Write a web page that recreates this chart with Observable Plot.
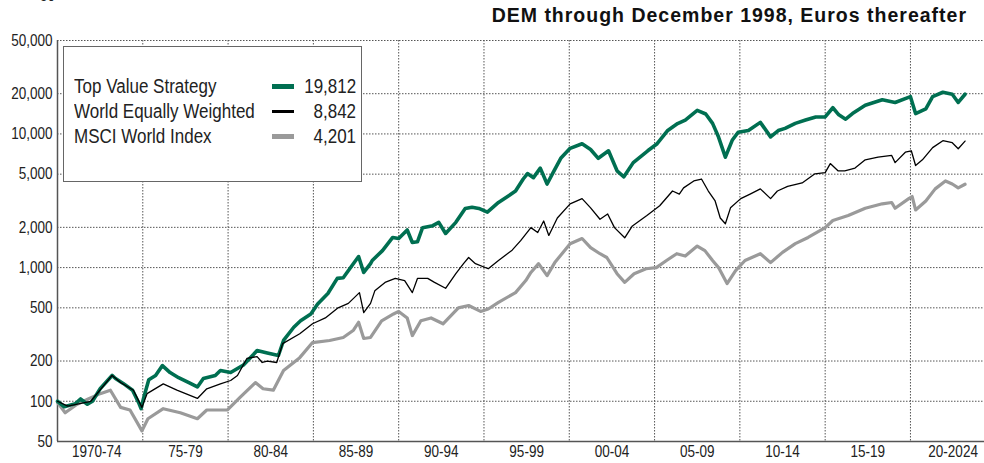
<!DOCTYPE html>
<html>
<head>
<meta charset="utf-8">
<script src="https://cdn.jsdelivr.net/npm/d3@7"></script>
<script src="https://cdn.jsdelivr.net/npm/@observablehq/plot@0.6"></script>
<style>
  body { margin: 0; background: #fff; }
  #wrap { position: relative; width: 984px; height: 463px; overflow: hidden; background: #fff; font-family: "Liberation Sans", Arial, sans-serif; }
  #title { position: absolute; right: 17px; top: 4px; font-weight: bold; font-size: 19.5px; letter-spacing: 1px; color: #111; white-space: nowrap; }
  #cut { position: absolute; left: 40px; top: -14px; font-size: 16.5px; color: #222; transform: scaleX(0.82); transform-origin: left; }
  #legend { position: absolute; left: 63px; top: 46px; width: 297px; height: 134px; border: 1.5px solid #666; background: #fff; box-sizing: content-box; }
  .row { position: absolute; left: 10px; width: 282px; height: 25px; font-size: 20px; color: #222; line-height: 25px; }
  .row .lab { position: absolute; left: 0; top: 0; white-space: nowrap; transform: scaleX(0.85); transform-origin: left center; }
  .row .sw { position: absolute; left: 198px; width: 22px; }
  .row .val { position: absolute; right: 0; top: 0; white-space: nowrap; transform: scaleX(0.85); transform-origin: right center; }
</style>
</head>
<body>
<div id="wrap">
  <div id="chart"></div>
  <div id="cut">50</div>
  <div id="title">DEM through December 1998, Euros thereafter</div>
  <div id="legend"></div>
</div>
<script>
// ---- data ----
const seriesNames = ["Top Value Strategy", "World Equally Weighted", "MSCI World Index"];
const finalLabels = ["19,812", "8,842", "4,201"];

const tvYears = [1970.0,1970.4,1971.05,1971.35,1971.75,1972.05,1972.5,1973.2,1973.4,1973.85,1974.4,1974.75,1974.9,1975.05,1975.35,1975.75,1976.15,1976.6,1977.1,1977.7,1978.2,1978.55,1979.25,1979.55,1980.15,1980.9,1981.5,1981.7,1982.3,1982.95,1983.25,1983.85,1984.25,1984.85,1985.25,1985.85,1986.4,1986.75,1987.15,1987.65,1987.95,1988.35,1988.45,1989.05,1989.65,1990.0,1990.5,1990.8,1991.1,1991.4,1992.0,1992.35,1992.75,1993.35,1993.9,1994.3,1994.7,1995.2,1995.85,1996.45,1996.85,1997.3,1997.55,1997.9,1998.3,1998.7,1999.05,1999.5,2000.05,2000.75,2001.25,2001.7,2002.3,2002.8,2003.2,2003.75,2004.6,2005.15,2005.75,2006.35,2006.8,2007.5,2008.0,2008.4,2008.75,2009.15,2009.55,2009.9,2010.5,2011.2,2011.8,2012.25,2012.65,2013.25,2013.85,2014.45,2015.0,2015.45,2015.8,2016.2,2016.6,2017.35,2018.35,2019.1,2020.0,2020.3,2020.9,2021.3,2021.9,2022.45,2022.8,2023.2];
const tvValues = [100,91,96,104,95,100,124,156,148,136,121,98,88,106,145,156,185,164,150,138,128,148,156,170,164,187,225,240,230,220,285,358,400,450,535,640,830,840,990,1210,920,1070,1130,1340,1680,1650,1910,1540,1560,1990,2060,2180,1800,2180,2770,2830,2770,2600,3070,3450,3740,4600,5050,4710,5550,4220,5130,6570,7800,8450,7650,6570,7480,5300,4780,6100,7480,8450,10550,11950,12700,15000,14100,12000,9470,6700,8960,10300,10600,12200,9500,10600,11000,12000,12700,13400,13400,15700,13900,12900,14200,16400,18000,17200,19000,14200,15400,19000,20500,19800,17200,19812];

const ewYears = [1970.0,1970.6,1971.95,1973.2,1973.7,1974.45,1974.95,1975.25,1976.2,1977.0,1978.2,1978.75,1979.55,1980.15,1980.55,1981.1,1981.7,1982.0,1982.3,1982.85,1983.2,1984.2,1984.95,1985.7,1986.45,1987.05,1987.7,1987.95,1988.35,1988.6,1989.2,1989.8,1990.35,1990.8,1991.1,1991.7,1992.1,1992.75,1993.35,1993.8,1994.1,1994.5,1995.25,1995.85,1996.65,1997.15,1997.75,1998.15,1998.5,1998.8,1999.3,2000.05,2000.75,2001.25,2001.8,2002.25,2002.65,2003.25,2003.7,2004.55,2005.3,2006.05,2006.45,2006.7,2007.3,2007.75,2008.15,2008.55,2008.85,2009.15,2009.45,2010.05,2010.6,2011.2,2011.8,2012.2,2012.8,2013.65,2014.4,2015.0,2015.3,2015.75,2016.15,2016.75,2017.35,2018.1,2018.9,2019.1,2019.7,2020.05,2020.3,2020.7,2021.3,2021.9,2022.45,2022.8,2023.2];
const ewValues = [100,92,100,156,138,121,90,114,135,121,105,124,135,143,156,209,216,195,200,195,270,320,380,420,500,540,650,460,540,670,775,830,800,650,830,830,775,700,900,1070,1190,1070,980,1130,1350,1590,1990,1830,2230,1740,2350,3000,3280,2800,2300,2520,1990,1670,2050,2450,2900,3740,3550,3950,4450,4600,3740,3150,2350,2130,2800,3280,3550,3880,3280,3740,4050,4300,5030,5130,6000,5300,5300,5550,6400,6700,6900,6100,7300,7480,5800,6400,7900,8900,8600,7750,8842];

const mwYears = [1970.0,1970.45,1971.15,1971.8,1972.5,1973.1,1973.7,1974.25,1974.95,1975.3,1976.2,1977.2,1978.2,1978.75,1979.95,1980.7,1981.6,1982.05,1982.65,1983.25,1984.2,1984.95,1985.95,1986.75,1987.35,1987.65,1987.95,1988.35,1989.0,1989.7,1990.0,1990.5,1990.8,1991.3,1991.9,1992.6,1993.5,1994.1,1994.8,1995.25,1995.85,1996.85,1997.45,1997.75,1998.2,1998.7,1999.15,2000.05,2000.75,2001.25,2001.8,2002.2,2002.8,2003.25,2003.8,2004.5,2005.1,2005.7,2006.3,2006.8,2007.5,2007.95,2008.4,2008.75,2009.25,2009.75,2010.3,2011.2,2011.8,2012.5,2013.25,2014.0,2015.0,2015.45,2016.35,2017.35,2018.35,2018.9,2019.1,2019.9,2020.1,2020.3,2020.9,2021.45,2022.05,2022.45,2022.8,2023.2];
const mwValues = [98,82,95,104,114,121,90,86,60,74,88,82,74,86,86,107,138,124,121,170,212,275,285,300,340,390,295,300,400,450,470,420,310,400,420,380,500,520,470,490,550,650,800,920,1070,870,1090,1510,1650,1410,1270,1190,900,775,900,980,1000,1130,1270,1220,1450,1340,1130,1000,760,950,1130,1270,1090,1300,1510,1680,1990,2250,2450,2780,3000,3070,2780,3280,3400,2700,3150,3880,4450,4220,3950,4201];

const yTicks = [50, 100, 200, 500, 1000, 2000, 5000, 10000, 20000, 50000];
const gridYears = [1975, 1980, 1985, 1990, 1995, 2000, 2005, 2010, 2015, 2020];
const periodLabels = ["1970-74", "75-79", "80-84", "85-89", "90-94", "95-99", "00-04", "05-09", "10-14", "15-19", "20-2024"];
const periodCenters = [1972.3, 1977.5, 1982.5, 1987.5, 1992.5, 1997.5, 2002.5, 2007.5, 2012.5, 2017.5, 2022.5];
const colors = ["#006f51", "#000000", "#9a9a9a"];
const widths = [3.6, 1.3, 3.2];

// ---- build table ----
const rows = [];
[[tvYears, tvValues], [ewYears, ewValues], [mwYears, mwValues]].forEach(([ys, vs], k) => {
  ys.forEach((y, i) => rows.push({series: seriesNames[k], year: y, value: vs[i]}));
});
const bySeries = name => rows.filter(r => r.series === name);
const labelMap = new Map(periodCenters.map((c, i) => [c, periodLabels[i]]));
const dotted = {stroke: "#555", strokeOpacity: 1, strokeWidth: 1, strokeDasharray: "1.5,1.5"};
const fmt = d3.format(",");

const chart = Plot.plot({
  width: 984, height: 463,
  marginLeft: 57, marginRight: 0, marginTop: 40, marginBottom: 22,
  x: {domain: [1970, 2024.34], axis: null},
  y: {type: "log", domain: [50, 50000], axis: null},
  style: {fontFamily: `"Liberation Sans", Arial, sans-serif`, fontSize: "16.5px", color: "#222", background: "#fff", overflow: "visible"},
  marks: [
    Plot.gridY(yTicks, dotted),
    Plot.gridX(gridYears, dotted),
    Plot.ruleX([1970], {stroke: "#555", strokeWidth: 1.5}),
    Plot.ruleY([50], {stroke: "#555", strokeWidth: 1.5}),
    Plot.text(yTicks, {y: d => d, frameAnchor: "left", textAnchor: "end", dx: -5, text: d => fmt(d), fill: "#222"}),
    Plot.text(periodCenters, {x: d => d, frameAnchor: "bottom", lineAnchor: "top", dy: 4, text: d => labelMap.get(d), fill: "#222"}),
    Plot.line(bySeries(seriesNames[2]), {x: "year", y: "value", stroke: colors[2], strokeWidth: widths[2], strokeLinejoin: "round"}),
    Plot.line(bySeries(seriesNames[0]), {x: "year", y: "value", stroke: colors[0], strokeWidth: widths[0], strokeLinejoin: "round"}),
    Plot.line(bySeries(seriesNames[1]), {x: "year", y: "value", stroke: colors[1], strokeWidth: widths[1], strokeLinejoin: "round"})
  ]
});
// narrow (condensed) look for the tick labels
chart.querySelectorAll("text").forEach(t => {
  const tr = t.getAttribute("transform") || "";
  t.setAttribute("transform", (tr + " scale(0.82,1)").trim());
});
document.getElementById("chart").appendChild(chart);

// ---- legend ----
const legend = document.getElementById("legend");
const rowTops = [27, 52, 77];
seriesNames.forEach((n, i) => {
  const r = document.createElement("div");
  r.className = "row";
  r.style.top = rowTops[i] + "px";
  const h = widths[i] + 1;
  r.innerHTML = `<span class="lab">${n}</span><span class="sw" style="top:${12.5 - h/2}px;height:${h}px;background:${colors[i]}"></span><span class="val">${finalLabels[i]}</span>`;
  legend.appendChild(r);
});
</script>
</body>
</html>
